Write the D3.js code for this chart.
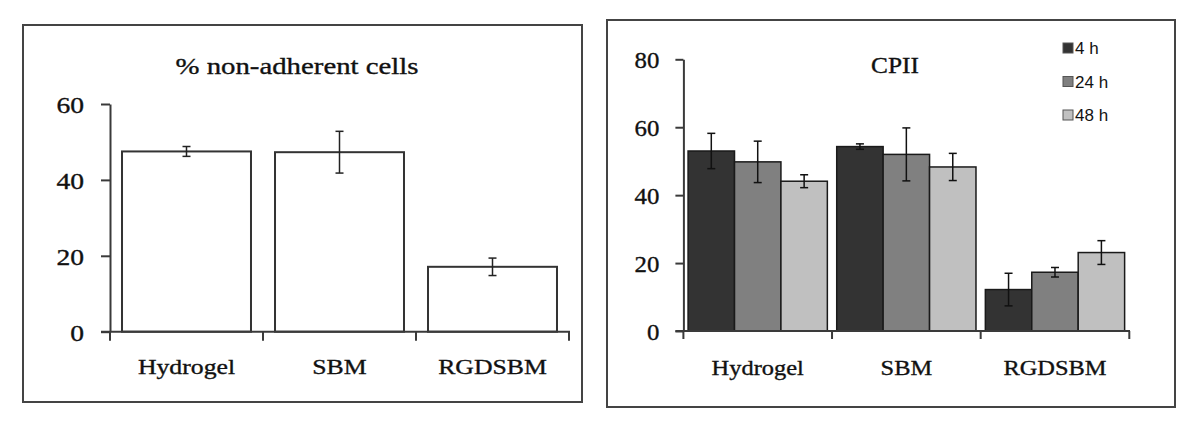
<!DOCTYPE html>
<html><head><meta charset="utf-8">
<script src="https://cdn.jsdelivr.net/npm/d3@7"></script>
<style>
html,body{margin:0;padding:0;background:#fff;}
svg{display:block;}
.serif{font-family:"Liberation Serif","Times New Roman",serif;fill:#111;stroke:#111;stroke-width:0.35px;}
.sans{font-family:"Liberation Sans",Arial,sans-serif;fill:#111;}
</style></head>
<body>
<svg id="c" width="1200" height="435"></svg>
<script>
// ---- Data ----
const categories = ["Hydrogel", "SBM", "RGDSBM"];
// Left panel: % non-adherent cells
const leftTitle = "% non-adherent cells";
const leftValues = [47.5, 47.3, 17.1];
const leftErrors = [1.3, 5.5, 2.3];
const leftTicks = [0, 20, 40, 60];
// Right panel: CPII
const rightTitle = "CPII";
const seriesNames = ["4 h", "24 h", "48 h"];
const series4h  = [53.0, 54.3, 12.2];
const series24h = [49.8, 52.0, 17.3];
const series48h = [44.1, 48.3, 23.1];
const err4h  = [5.2, 0.8, 4.8];
const err24h = [6.1, 7.8, 1.4];
const err48h = [1.9, 4.0, 3.5];
const rightTicks = [0, 20, 40, 60, 80];
const seriesColors = ["#333333", "#808080", "#c0c0c0"];

const svg = d3.select("#c");
const axisColor = "#3a3a3a";

function frame(x0, y0, x1, y1) {
  svg.append("rect").attr("x", x0).attr("y", y0).attr("width", x1 - x0).attr("height", y1 - y0)
    .attr("fill", "none").attr("stroke", "#444").attr("stroke-width", 2);
}
frame(23, 25, 582, 402);
frame(607, 20, 1175, 407);

// horizontal stretch of a text about its anchor point
function stretchText(sel, sx) {
  sel.each(function() {
    const t = d3.select(this);
    const x = +t.attr("x") || 0, y = +t.attr("y") || 0;
    const prev = t.attr("transform") || "";
    t.attr("transform", `${prev} translate(${x},${y}) scale(${sx},1) translate(${-x},${-y})`);
  });
}

// ---------- Left panel ----------
{
  const y = d3.scaleLinear().domain([0, 60]).range([331.7, 104]);
  const x = d3.scaleBand().domain(categories).range([110, 569]).paddingInner(0.157).paddingOuter(0.0785);
  const g = svg.append("g");
  g.selectAll("rect.bar").data(categories).join("rect")
    .attr("x", d => x(d)).attr("width", x.bandwidth())
    .attr("y", (d, i) => y(leftValues[i])).attr("height", (d, i) => y(0) - y(leftValues[i]))
    .attr("fill", "#fff").attr("stroke", "#333").attr("stroke-width", 2);
  const eb = g.selectAll("g.err").data(categories).join("g");
  eb.append("line").attr("x1", d => x(d) + x.bandwidth() / 2).attr("x2", d => x(d) + x.bandwidth() / 2)
    .attr("y1", (d, i) => y(leftValues[i] + leftErrors[i])).attr("y2", (d, i) => y(leftValues[i] - leftErrors[i]))
    .attr("stroke", "#222").attr("stroke-width", 1.5);
  [1, -1].forEach(s => {
    eb.append("line").attr("x1", d => x(d) + x.bandwidth() / 2 - 4).attr("x2", d => x(d) + x.bandwidth() / 2 + 4)
      .attr("y1", (d, i) => y(leftValues[i] + s * leftErrors[i])).attr("y2", (d, i) => y(leftValues[i] + s * leftErrors[i]))
      .attr("stroke", "#222").attr("stroke-width", 1.5);
  });
  const ya = g.append("g").attr("transform", "translate(110,0)")
    .call(d3.axisLeft(y).tickValues(leftTicks).tickSize(9).tickPadding(17).tickSizeOuter(0));
  ya.select(".domain").attr("stroke", axisColor).attr("stroke-width", 2);
  ya.selectAll(".tick line").attr("stroke", axisColor).attr("stroke-width", 2);
  ya.selectAll(".tick text").attr("class", "serif").attr("font-size", 24).attr("dy", "0.36em")
    .attr("fill", null).call(s => stretchText(s, 1.15));
  g.append("line").attr("x1", 101).attr("x2", 570).attr("y1", y(0)).attr("y2", y(0))
    .attr("stroke", axisColor).attr("stroke-width", 2);
  const seps = categories.map(c => x(c) - x.step() * x.paddingInner() / 2).concat([x(categories[2]) + x.bandwidth() + x.step() * x.paddingInner() / 2]);
  g.selectAll("line.sep").data(seps).join("line")
    .attr("x1", d => d).attr("x2", d => d).attr("y1", y(0)).attr("y2", y(0) + 9)
    .attr("stroke", axisColor).attr("stroke-width", 2);
  g.selectAll("text.cat").data(categories).join("text")
    .attr("class", "serif").attr("font-size", 22).attr("text-anchor", "middle")
    .attr("x", d => x(d) + x.bandwidth() / 2).attr("y", 374).text(d => d)
    .call(s => stretchText(s, 1.17));
  g.append("text").attr("class", "serif").attr("font-size", 24).attr("text-anchor", "middle")
    .attr("x", 297).attr("y", 74).text(leftTitle)
    .call(s => stretchText(s, 1.2));
}

// ---------- Right panel ----------
{
  const vals = [series4h, series24h, series48h];
  const errs = [err4h, err24h, err48h];
  const y = d3.scaleLinear().domain([0, 80]).range([331, 59.3]);
  const x = d3.scaleBand().domain(categories).range([683.4, 1129.3]).paddingInner(0.063).paddingOuter(0.0315);
  const xs = d3.scaleBand().domain(seriesNames).range([0, x.bandwidth()]);
  const g = svg.append("g");
  const flat = [];
  categories.forEach((c, ci) => seriesNames.forEach((s, si) => flat.push({ c, s, si, v: vals[si][ci], e: errs[si][ci] })));
  g.selectAll("rect.bar").data(flat).join("rect")
    .attr("x", d => x(d.c) + xs(d.s)).attr("width", xs.bandwidth())
    .attr("y", d => y(d.v)).attr("height", d => y(0) - y(d.v))
    .attr("fill", d => seriesColors[d.si]).attr("stroke", "#1a1a1a").attr("stroke-width", 1.5);
  const cx = d => x(d.c) + xs(d.s) + xs.bandwidth() / 2;
  g.selectAll("line.ev").data(flat).join("line")
    .attr("x1", cx).attr("x2", cx).attr("y1", d => y(d.v + d.e)).attr("y2", d => y(d.v - d.e))
    .attr("stroke", "#111").attr("stroke-width", 1.5);
  [1, -1].forEach(s => {
    g.selectAll(null).data(flat).join("line")
      .attr("x1", d => cx(d) - 4).attr("x2", d => cx(d) + 4)
      .attr("y1", d => y(d.v + s * d.e)).attr("y2", d => y(d.v + s * d.e))
      .attr("stroke", "#111").attr("stroke-width", 1.5);
  });
  const ya = g.append("g").attr("transform", "translate(683.4,0)")
    .call(d3.axisLeft(y).tickValues(rightTicks).tickSize(8).tickPadding(16).tickSizeOuter(0));
  ya.select(".domain").attr("stroke", axisColor).attr("stroke-width", 2);
  ya.selectAll(".tick line").attr("stroke", axisColor).attr("stroke-width", 2);
  ya.selectAll(".tick text").attr("class", "serif").attr("font-size", 23).attr("dy", "0.36em")
    .attr("fill", null).call(s => stretchText(s, 1.08));
  g.append("line").attr("x1", 675.4).attr("x2", 1130).attr("y1", y(0)).attr("y2", y(0))
    .attr("stroke", axisColor).attr("stroke-width", 2);
  const seps = categories.map(c => x(c) - x.step() * x.paddingInner() / 2).concat([x(categories[2]) + x.bandwidth() + x.step() * x.paddingInner() / 2]);
  g.selectAll("line.sep").data(seps).join("line")
    .attr("x1", d => d).attr("x2", d => d).attr("y1", y(0)).attr("y2", y(0) + 8)
    .attr("stroke", axisColor).attr("stroke-width", 2);
  g.selectAll("text.cat").data(categories).join("text")
    .attr("class", "serif").attr("font-size", 22).attr("text-anchor", "middle")
    .attr("x", d => x(d) + x.bandwidth() / 2).attr("y", 375).text(d => d)
    .call(s => stretchText(s, 1.11));
  g.append("text").attr("class", "serif").attr("font-size", 23).attr("text-anchor", "middle")
    .attr("x", 895).attr("y", 73).text(rightTitle)
    .call(s => stretchText(s, 1.1));
  const lg = g.selectAll("g.leg").data(seriesNames).join("g")
    .attr("transform", (d, i) => `translate(1063,${48 + i * 33.5})`);
  lg.append("rect").attr("x", 0).attr("y", -5).attr("width", 10).attr("height", 10)
    .attr("fill", (d, i) => seriesColors[i]).attr("stroke", "#555").attr("stroke-width", 1);
  lg.append("text").attr("class", "sans").attr("font-size", 17).attr("x", 12).attr("y", 6).text(d => d);
}
</script>
</body></html>
